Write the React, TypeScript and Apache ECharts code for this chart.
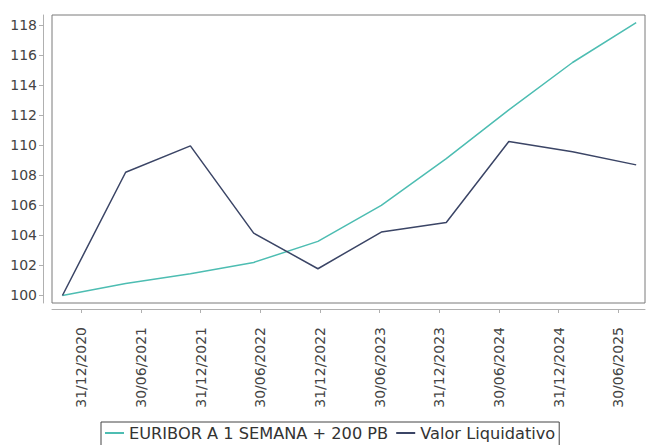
import React, { useEffect, useRef } from "react";
import * as echarts from "echarts";

// Tick dates (half-year steps); tick i sits at x = i
const tickLabels = [
  "31/12/2020", "30/06/2021", "31/12/2021", "30/06/2022", "31/12/2022",
  "30/06/2023", "31/12/2023", "30/06/2024", "31/12/2024", "30/06/2025",
];
// Observation positions, in half-year units from 31/12/2020
const observationPositions = [-0.318, 0.742, 1.827, 2.888, 3.965, 5.028, 6.117, 7.166, 8.234, 9.301];
const euriborValues = [100, 100.8, 101.45, 102.2, 103.6, 106.0, 109.1, 112.35, 115.5, 118.15];
const valorValues = [100, 108.2, 109.95, 104.15, 101.78, 104.22, 104.86, 110.24, 109.56, 108.69];
const yTicks = [100, 102, 104, 106, 108, 110, 112, 114, 116, 118];
const seriesNames = ["EURIBOR A 1 SEMANA + 200 PB", "Valor Liquidativo"];

export default function App() {
  const ref = useRef<HTMLDivElement>(null);
  useEffect(() => {
    if (!ref.current) return;
    const chart = echarts.init(ref.current, undefined, { renderer: "svg" });
    const font = "'DejaVu Sans', sans-serif";
    const tickIdx = tickLabels.map((_, i) => i);
    chart.setOption({
      animation: false,
      backgroundColor: "#ffffff",
      grid: {
        left: 52,
        right: 1,
        top: 15,
        bottom: 142,
        show: true,
        borderColor: "#7a7a7a",
        borderWidth: 1,
        backgroundColor: "transparent",
      },
      xAxis: {
        type: "value",
        min: -0.493,
        max: 9.449,
        offset: 6,
        axisLine: { show: true, onZero: false, lineStyle: { color: "#b0b0b0", width: 1 } },
        axisTick: { show: true, length: 4, customValues: tickIdx, lineStyle: { color: "#b0b0b0" } },
        splitLine: { show: false },
        axisLabel: {
          customValues: tickIdx,
          rotate: 90,
          margin: 18,
          fontFamily: font,
          fontSize: 14,
          color: "#444444",
          formatter: (v: number) => tickLabels[Math.round(v)] ?? "",
        },
      },
      yAxis: {
        type: "value",
        min: 99.5,
        max: 118.66,
        offset: 9,
        axisLine: { show: true, onZero: false, lineStyle: { color: "#b0b0b0", width: 1 } },
        axisTick: { show: true, length: 4, customValues: yTicks, lineStyle: { color: "#b0b0b0" } },
        splitLine: { show: false },
        axisLabel: {
          customValues: yTicks,
          margin: 6,
          fontFamily: font,
          fontSize: 14,
          color: "#444444",
        },
      },
      legend: {
        left: 101,
        top: 422,
        orient: "horizontal",
        padding: [3, 4, 6, 4],
        borderColor: "#444444",
        borderWidth: 1,
        itemGap: 8,
        itemWidth: 19,
        itemHeight: 2,
        icon: "rect",
        textStyle: { fontFamily: font, fontSize: 16.2, color: "#333333" },
        data: seriesNames,
      },
      series: [
        {
          name: seriesNames[0],
          type: "line",
          symbol: "none",
          color: "#4dbdb2",
          lineStyle: { width: 1.5, color: "#4dbdb2" },
          data: observationPositions.map((x, i) => [x, euriborValues[i]]),
        },
        {
          name: seriesNames[1],
          type: "line",
          symbol: "none",
          color: "#3b4566",
          lineStyle: { width: 1.5, color: "#3b4566" },
          data: observationPositions.map((x, i) => [x, valorValues[i]]),
        },
      ],
    });
    return () => chart.dispose();
  }, []);
  return (
    <div
      ref={ref}
      style={{ position: "fixed", left: 0, top: 0, width: 646, height: 445, background: "#fff" }}
    />
  );
}
